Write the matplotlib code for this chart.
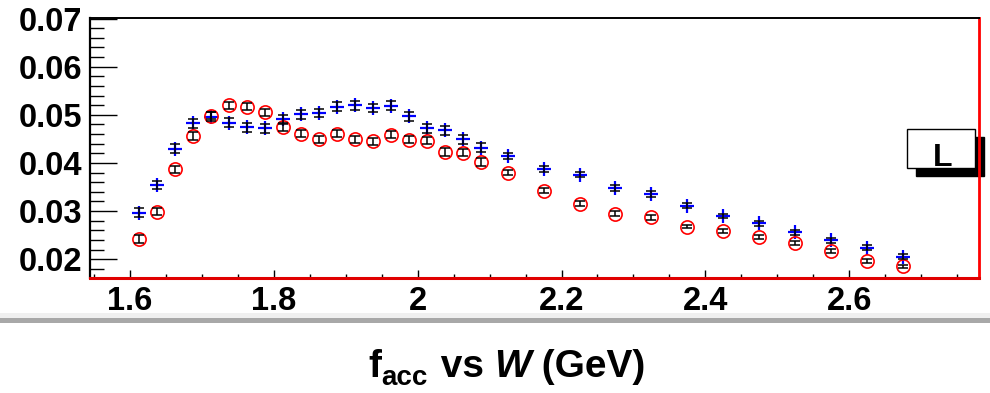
import matplotlib
matplotlib.use("Agg")
import matplotlib.pyplot as plt
from matplotlib.patches import Rectangle
from matplotlib.ticker import MultipleLocator, FixedLocator

plt.rcParams["font.family"] = ["Liberation Sans", "DejaVu Sans"]
plt.rcParams["font.weight"] = "bold"

# W bin centres (GeV): 25 MeV bins up to 2.1 GeV, 50 MeV bins above
w_centres = [1.6125, 1.6375, 1.6625, 1.6875, 1.7125, 1.7375, 1.7625, 1.7875,
             1.8125, 1.8375, 1.8625, 1.8875, 1.9125, 1.9375, 1.9625, 1.9875,
             2.0125, 2.0375, 2.0625, 2.0875,
             2.125, 2.175, 2.225, 2.275, 2.325, 2.375, 2.425, 2.475,
             2.525, 2.575, 2.625, 2.675]

# acceptance, first sample (blue crosses)
facc_blue = [0.0297, 0.0354, 0.0430, 0.0482, 0.0496, 0.0484, 0.0474, 0.0472,
             0.0491, 0.0501, 0.0504, 0.0517, 0.0520, 0.0514, 0.0519, 0.0497,
             0.0472, 0.0468, 0.0449, 0.0432,
             0.0415, 0.0387, 0.0376, 0.0348, 0.0335, 0.0311, 0.0290, 0.0275,
             0.0256, 0.0239, 0.0224, 0.0205]
err_blue = [0.0009, 0.0009, 0.0009, 0.0009, 0.0009, 0.0009, 0.0009, 0.0009,
            0.0009, 0.0009, 0.0009, 0.0009, 0.0009, 0.0009, 0.0009, 0.0009,
            0.0009, 0.0009, 0.0009, 0.0009,
            0.0006, 0.0006, 0.0006, 0.0006, 0.0006, 0.0005, 0.0005, 0.0005,
            0.0005, 0.0005, 0.0005, 0.0005]

# acceptance, second sample (red open circles)
facc_red = [0.0242, 0.0299, 0.0387, 0.0456, 0.0498, 0.0520, 0.0517, 0.0505,
            0.0474, 0.0461, 0.0449, 0.0461, 0.0449, 0.0445, 0.0459, 0.0448,
            0.0446, 0.0423, 0.0421, 0.0402,
            0.0380, 0.0342, 0.0315, 0.0295, 0.0287, 0.0268, 0.0259, 0.0247,
            0.0234, 0.0217, 0.0197, 0.0185]
err_red = [0.00075, 0.00075, 0.00075, 0.00075, 0.00075, 0.00075, 0.00075, 0.00075,
           0.00075, 0.00075, 0.00075, 0.00075, 0.00075, 0.00075, 0.00075, 0.00075,
           0.00075, 0.00075, 0.00075, 0.00075,
           0.0005, 0.0005, 0.0005, 0.0005, 0.0005, 0.0004, 0.0004, 0.0004,
           0.0004, 0.0004, 0.0004, 0.0004]

x_ticks = [1.6, 1.8, 2.0, 2.2, 2.4, 2.6]
x_ticklabels = ["1.6", "1.8", "2", "2.2", "2.4", "2.6"]
y_ticks = [0.02, 0.03, 0.04, 0.05, 0.06, 0.07]
y_ticklabels = ["0.02", "0.03", "0.04", "0.05", "0.06", "0.07"]

fig = plt.figure(figsize=(9.9, 3.93), dpi=100)
fig.patch.set_facecolor("white")
ax = fig.add_axes([0.0909, 0.2926, 0.8980, 0.6614])

# markers
ax.plot(w_centres, facc_blue, linestyle="none", marker="+", markersize=10.5,
        markeredgewidth=1.6, color="#0000ff", zorder=3)
ax.plot(w_centres, facc_red, linestyle="none", marker="o", markersize=9.5,
        markerfacecolor="none", markeredgewidth=1.2, markeredgecolor="#ff0000",
        zorder=3)
# error bars on top
ax.errorbar(w_centres, facc_blue, yerr=err_blue, fmt="none", ecolor="black",
            elinewidth=1.1, capsize=3.8, capthick=1.1, zorder=4)
ax.errorbar(w_centres, facc_red, yerr=err_red, fmt="none", ecolor="black",
            elinewidth=1.1, capsize=3.6, capthick=1.1, zorder=4)

ax.set_xlim(1.5443, 2.7805)
ax.set_ylim(0.0161, 0.0701)

ax.xaxis.set_major_locator(FixedLocator(x_ticks))
ax.set_xticklabels(x_ticklabels)
ax.xaxis.set_minor_locator(MultipleLocator(0.05))
ax.yaxis.set_major_locator(FixedLocator(y_ticks))
ax.set_yticklabels(y_ticklabels)
ax.yaxis.set_minor_locator(MultipleLocator(0.002))

ax.tick_params(axis="y", which="major", direction="in", length=19.5, width=1.0,
               labelsize=23.5, pad=5.5)
ax.tick_params(axis="y", which="minor", direction="in", length=10, width=1.0)
ax.tick_params(axis="x", which="major", direction="in", length=6, width=1.0,
               labelsize=23.5, pad=6.0)
ax.tick_params(axis="x", which="minor", direction="in", length=2.6, width=1.0)
for lab in ax.get_xticklabels() + ax.get_yticklabels():
    lab.set_fontweight("bold")

ax.spines["left"].set_color("black")
ax.spines["left"].set_linewidth(1.6)
ax.spines["top"].set_color("black")
ax.spines["top"].set_linewidth(1.4)
ax.spines["right"].set_color("#ff0000")
ax.spines["right"].set_linewidth(2.0)
ax.spines["bottom"].set_color("#e00000")
ax.spines["bottom"].set_linewidth(2.2)
for s in ax.spines.values():
    s.set_zorder(6)

# legend pave with drop shadow
bx, by, bw, bh = 0.9165, 0.5733, 0.0684, 0.0985
ax.add_patch(Rectangle((bx + 0.0086, by - 0.0204), bw, bh, transform=fig.transFigure,
                       facecolor="black", edgecolor="black", clip_on=False, zorder=5))
ax.add_patch(Rectangle((bx, by), bw, bh, transform=fig.transFigure,
                       facecolor="white", edgecolor="black", linewidth=1.0,
                       clip_on=False, zorder=5.1))
ax.text(0.952, 0.5784, "L", transform=fig.transFigure, ha="center", va="baseline",
        fontsize=23, fontweight="bold", color="black", zorder=5.2, clip_on=False)

# separator band
fig.patches.append(Rectangle((0, 0.1900), 1, 0.0143, transform=fig.transFigure,
                             facecolor="#f0f0f0", edgecolor="none"))
fig.patches.append(Rectangle((0, 0.1789), 1, 0.0111, transform=fig.transFigure,
                             facecolor="#a8a8a8", edgecolor="none"))

# axis title laid out piece by piece: f, subscript "acc", "vs", italic W, "(GeV)"
title_parts = [
    ("f", 28, "normal", 0.0, 0.0),
    ("acc", 20, "normal", 0.0, -8.0),
    (" vs ", 28, "normal", 2.0, 0.0),
    ("W", 28, "italic", 0.0, 0.0),
    (" (GeV)", 28, "normal", 0.0, 0.0),
]
renderer = fig.canvas.get_renderer()
baseline_px = 16
texts = []
widths = []
for s, size, style, gap, dy in title_parts:
    t = fig.text(0, 0, s, fontsize=size, fontstyle=style, fontweight="bold",
                 ha="left", va="baseline", transform=None)
    bb = t.get_window_extent(renderer)
    texts.append((t, gap, dy))
    widths.append(bb.width)
total = sum(widths) + sum(p[3] for p in title_parts)
x = 507 - total / 2
for (t, gap, dy), w in zip(texts, widths):
    x += gap
    t.set_position((x, baseline_px + dy))
    x += w

fig.savefig("out.png", dpi=100, facecolor="white")
